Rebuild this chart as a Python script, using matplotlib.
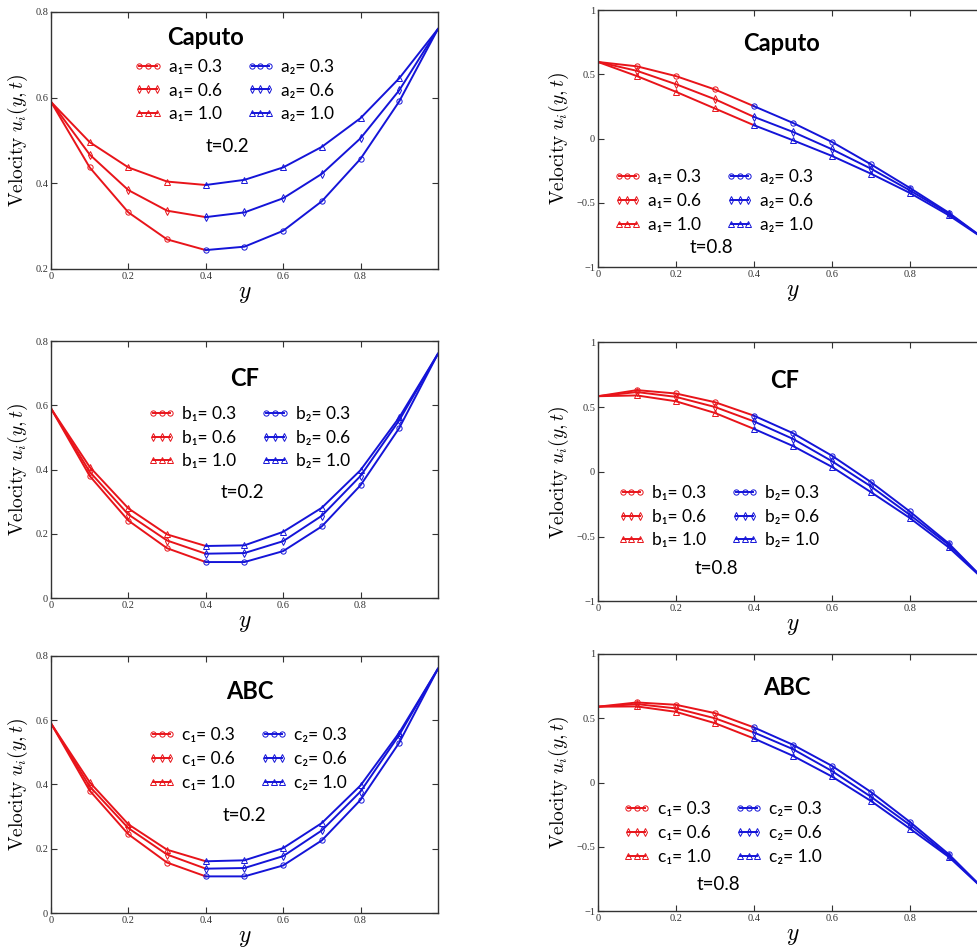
import numpy as np
import matplotlib
matplotlib.use("Agg")
import matplotlib.pyplot as plt

plt.rcParams['mathtext.fontset'] = 'cm'

# positions along the channel
y_pos = [0.0, 0.1, 0.2, 0.3, 0.4, 0.5, 0.6, 0.7, 0.8, 0.9, 1.0]

# Caputo, t=0.2  (a = 0.3, 0.6, 1.0)
caputo_t02_03 = [0.59, 0.437, 0.332, 0.269, 0.244, 0.252, 0.289, 0.358, 0.457, 0.591, 0.76]
caputo_t02_06 = [0.59, 0.467, 0.384, 0.336, 0.321, 0.332, 0.365, 0.422, 0.505, 0.617, 0.76]
caputo_t02_10 = [0.59, 0.496, 0.437, 0.404, 0.396, 0.408, 0.437, 0.485, 0.552, 0.645, 0.76]

# Caputo, t=0.8
caputo_t08_03 = [0.596, 0.562, 0.486, 0.382, 0.252, 0.122, -0.026, -0.200, -0.384, -0.577, -0.80]
caputo_t08_06 = [0.596, 0.527, 0.423, 0.306, 0.169, 0.052, -0.083, -0.234, -0.403, -0.584, -0.80]
caputo_t08_10 = [0.596, 0.486, 0.364, 0.234, 0.104, -0.013, -0.135, -0.273, -0.423, -0.597, -0.80]

# CF, t=0.2  (b = 0.3, 0.6, 1.0)
cf_t02_03 = [0.59, 0.380, 0.241, 0.155, 0.112, 0.112, 0.146, 0.223, 0.351, 0.529, 0.76]
cf_t02_06 = [0.59, 0.393, 0.260, 0.179, 0.138, 0.140, 0.177, 0.256, 0.380, 0.553, 0.76]
cf_t02_10 = [0.59, 0.408, 0.279, 0.198, 0.162, 0.164, 0.206, 0.281, 0.398, 0.562, 0.76]

# CF, t=0.8
cf_t08_03 = [0.584, 0.631, 0.605, 0.538, 0.434, 0.299, 0.125, -0.078, -0.306, -0.553, -0.86]
cf_t08_06 = [0.584, 0.616, 0.579, 0.501, 0.390, 0.255, 0.083, -0.112, -0.332, -0.564, -0.86]
cf_t08_10 = [0.584, 0.590, 0.545, 0.455, 0.332, 0.200, 0.039, -0.156, -0.356, -0.584, -0.86]

# ABC, t=0.2  (c = 0.3, 0.6, 1.0)
abc_t02_03 = [0.59, 0.381, 0.245, 0.157, 0.114, 0.114, 0.148, 0.226, 0.352, 0.530, 0.76]
abc_t02_06 = [0.59, 0.394, 0.264, 0.182, 0.138, 0.140, 0.177, 0.257, 0.378, 0.554, 0.76]
abc_t02_10 = [0.59, 0.407, 0.276, 0.197, 0.161, 0.164, 0.202, 0.280, 0.397, 0.561, 0.76]

# ABC, t=0.8
abc_t08_03 = [0.59, 0.623, 0.605, 0.540, 0.429, 0.294, 0.130, -0.073, -0.306, -0.558, -0.86]
abc_t08_06 = [0.59, 0.610, 0.577, 0.500, 0.390, 0.260, 0.090, -0.110, -0.330, -0.571, -0.86]
abc_t08_10 = [0.59, 0.592, 0.550, 0.462, 0.343, 0.208, 0.047, -0.143, -0.358, -0.579, -0.86]

param_values = ["0.3", "0.6", "1.0"]
markers = ['o', 'd', '^']
sans = ['Lato', 'DejaVu Sans']


def draw_panel(ax, series, title, letter, tlabel, left, title_xy, leg_xy, t_xy):
    y = np.array(y_pos)
    red_handles, blue_handles = [], []
    for vals, mk, pv in zip(series, markers, param_values):
        v = np.array(vals)
        hr, = ax.plot(y[:5], v[:5], color='#e8141a', lw=1.4, marker=mk, ms=3.8,
                      mfc='none', mew=0.7, markevery=[1, 2, 3],
                      label=letter + "\u2081= " + pv)
        hb, = ax.plot(y[4:], v[4:], color='#1414d8', lw=1.4, marker=mk, ms=3.8,
                      mfc='none', mew=0.7, markevery=[0, 1, 2, 3, 4, 5],
                      label=letter + "\u2082= " + pv)
        red_handles.append(hr)
        blue_handles.append(hb)
    ax.set_xlim(0, 1)
    if left:
        if title == "Caputo":
            ax.set_ylim(0.2, 0.8)
            ax.set_yticks([0.2, 0.4, 0.6, 0.8])
            ax.set_yticklabels(["0.2", "0.4", "0.6", "0.8"])
        else:
            ax.set_ylim(0, 0.8)
            ax.set_yticks([0, 0.2, 0.4, 0.6, 0.8])
            ax.set_yticklabels(["0", "0.2", "0.4", "0.6", "0.8"])
    else:
        ax.set_ylim(-1, 1)
        ax.set_yticks([-1, -0.5, 0, 0.5, 1])
        ax.set_yticklabels(["\u22121", "\u22120.5", "0", "0.5", "1"])
    ax.set_xticks([0, 0.2, 0.4, 0.6, 0.8])
    ax.set_xticklabels(["0", "0.2", "0.4", "0.6", "0.8"])
    ax.tick_params(direction='in', top=True, right=True, length=4, width=0.8,
                   labelsize=7.5, pad=2, colors='#333333')
    for lbl in ax.get_xticklabels() + ax.get_yticklabels():
        lbl.set_fontfamily('Liberation Serif')
    for sp in ax.spines.values():
        sp.set_color('#333333')
        sp.set_linewidth(1.0)
    ax.set_xlabel(r'$y$', fontsize=17, labelpad=0)
    ax.set_ylabel(r'$\mathrm{Velocity}\ u_i(y,t)$', fontsize=14, labelpad=4)

    ax.text(title_xy[0], title_xy[1], title, transform=ax.transAxes,
            ha='center', va='center', fontsize=17, fontweight='bold', family=sans)
    ax.text(t_xy[0], t_xy[1], tlabel, transform=ax.transAxes,
            ha='center', va='center', fontsize=13.5, family=sans)
    ax.legend(red_handles + blue_handles,
              [h.get_label() for h in red_handles + blue_handles],
              ncol=2, frameon=False, loc='upper left', bbox_to_anchor=leg_xy,
              numpoints=3, handlelength=1.6, handletextpad=0.4,
              columnspacing=1.4, labelspacing=0.45, borderpad=0, borderaxespad=0,
              prop={'family': sans, 'size': 12.5})


fig = plt.figure(figsize=(9.77, 9.47), dpi=100)

ax1 = fig.add_axes([0.0522, 0.716, 0.396, 0.2714])
ax2 = fig.add_axes([0.612, 0.718, 0.399, 0.2714])
ax3 = fig.add_axes([0.0522, 0.3685, 0.396, 0.2714])
ax4 = fig.add_axes([0.612, 0.365, 0.399, 0.2735])
ax5 = fig.add_axes([0.0522, 0.0359, 0.396, 0.2714])
ax6 = fig.add_axes([0.612, 0.038, 0.399, 0.2714])

draw_panel(ax1, [caputo_t02_03, caputo_t02_06, caputo_t02_10], "Caputo", "a", "t=0.2", True,
           (0.40, 0.9), (0.215, 0.818), (0.455, 0.475))
draw_panel(ax2, [caputo_t08_03, caputo_t08_06, caputo_t08_10], "Caputo", "a", "t=0.8", False,
           (0.47, 0.87), (0.04, 0.38), (0.29, 0.075))
draw_panel(ax3, [cf_t02_03, cf_t02_06, cf_t02_10], "CF", "b", "t=0.2", True,
           (0.50, 0.856), (0.25, 0.748), (0.496, 0.41))
draw_panel(ax4, [cf_t08_03, cf_t08_06, cf_t08_10], "CF", "b", "t=0.8", False,
           (0.48, 0.853), (0.05, 0.45), (0.305, 0.125))
draw_panel(ax5, [abc_t02_03, abc_t02_06, abc_t02_10], "ABC", "c", "t=0.2", True,
           (0.515, 0.86), (0.25, 0.723), (0.50, 0.38))
draw_panel(ax6, [abc_t08_03, abc_t08_06, abc_t08_10], "ABC", "c", "t=0.8", False,
           (0.485, 0.87), (0.064, 0.427), (0.31, 0.105))

fig.savefig("out.png", dpi=100)
